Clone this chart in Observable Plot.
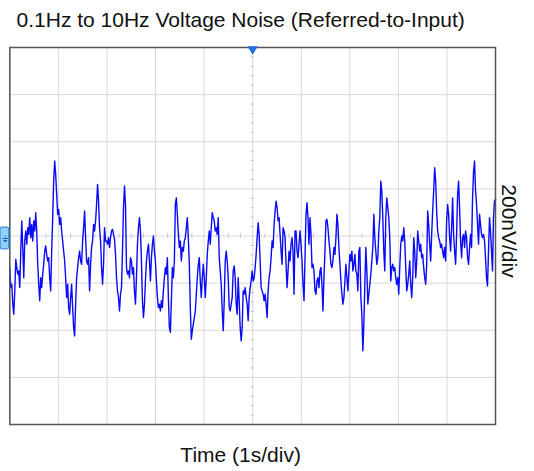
<!DOCTYPE html>
<html>
<head>
<meta charset="utf-8">
<script src="https://cdn.jsdelivr.net/npm/d3@7"></script>
<script src="https://cdn.jsdelivr.net/npm/@observablehq/plot@0.6"></script>
<style>
  html, body { margin: 0; padding: 0; background: #ffffff; }
  #chart svg { display: block; }
</style>
</head>
<body>
<div id="chart"></div>
<script>
// ---- Chart text ----
const titleText = "0.1Hz to 10Hz Voltage Noise (Referred-to-Input)";
const xLabelText = "Time (1s/div)";
const yLabelText = "200nV/div";

// ---- Scope graticule (10 time divisions of 1 s, 8 voltage divisions of 200 nV) ----
const timeDivisions = [0, 1, 2, 3, 4, 5, 6, 7, 8, 9, 10];          // seconds
const voltDivisions = [-800, -600, -400, -200, 0, 200, 400, 600, 800]; // nV
const minorTimeTicks = [0.25, 0.5, 0.75, 1.25, 1.5, 1.75, 2.25, 2.5, 2.75, 3.25, 3.5, 3.75,
  4.25, 4.5, 4.75, 5.25, 5.5, 5.75, 6.25, 6.5, 6.75, 7.25, 7.5, 7.75, 8.25, 8.5, 8.75, 9.25, 9.5, 9.75];
const minorVoltTicks = [-760, -720, -680, -640, -560, -520, -480, -440, -360, -320, -280, -240,
  -160, -120, -80, -40, 40, 80, 120, 160, 240, 280, 320, 360, 440, 480, 520, 560, 640, 680, 720, 760];
const captureSeconds = 10;

// ---- Voltage noise trace, nV (uniform sampling over 10 s) ----
const noise0to2s = [
  -134,-219,-205,-289,-332,-233,-99,-134,-162,-148,
  -219,-64,64,-49,-177,-21,21,-35,35,7,
  78,-7,49,-21,64,21,99,21,-120,-205,
  -275,-177,-219,-162,-120,-64,-42,-78,-106,-92,
  -177,-233,-64,78,233,318,261,177,92,113,
  49,78,21,-21,-64,-106,-177,-261,-205,-304,
  -332,-261,-205,-304,-388,-424,-289,-177,-134,-92,
  -64,-106,-120,-21,35,106,-7,-106,-120,-92,
  -233,-120,-49,-21,49,21,64,134,219,148,
  35,-21,-134,-205,-120,35,-21
];
const noise2to4s = [
  -21,-35,-7,-49,-7,21,28,7,-14,-78,
  -177,-233,-261,-318,-247,-219,-64,120,212,134,
  -134,-162,-148,-177,-92,-106,-162,-134,-233,-289,
  -177,-35,35,78,21,-106,-275,-346,-289,-191,
  -106,-64,-35,-106,-191,-92,-35,0,-64,-106,
  -191,-261,-304,-289,-318,-275,-304,-233,-177,-134,
  -162,-92,-261,-388,-409,-275,-134,-177,-106,134,
  162,92,7,-49,-21,-106,-49,-64,-21,-7,
  35,78,-7,-120,-304,-438,-402,-374,-346,-318,
  -247,-177,-120,-92,-191
];
const noise4to6s = [
  -261,-177,-120,-177,-261,-177,-78,-21,21,-35,
  35,99,78,64,21,35,7,78,-92,-148,
  -205,-318,-402,-275,-106,-64,-106,-177,-304,-318,
  -289,-261,-148,-127,-177,-289,-332,-177,-275,-388,
  -445,-388,-233,-247,-219,-261,-289,-360,-261,-219,
  -191,-148,-191,-177,-134,-78,-7,56,7,-106,
  -219,-233,-247,-275,-247,-289,-346,-233,-177,-148,
  -92,-21,-49,49,106,148,120,64,78,7,
  -64,-120,35,21,-7,-120,-219,-148,-64,-106,
  -35,-7,-64,-247,21
];
const noise6to8s = [
  21,-64,-92,-35,21,-35,-106,-205,-275,-92,
  92,141,78,-35,78,7,-134,-120,-148,-233,
  -247,-191,-177,-219,-148,-134,-205,-318,-177,-64,
  64,71,35,-21,-64,-120,-134,-106,-49,-78,
  -7,92,49,-49,-120,-191,-247,-289,-261,-191,
  -120,-177,-233,-148,-78,-106,-64,-148,-120,-78,
  -148,-162,-233,-64,-49,-261,-332,-487,-374,-205,
  -49,-148,-289,-247,-205,-162,-106,-49,92,-7,
  -64,-120,-92,21,78,233,191,78,-64,-148,
  78,162,120,78,-7
];
const noise8to10s = [
  -191,-134,-120,-148,-134,-177,-205,-177,-247,-134,
  -35,0,-21,35,-21,-134,-233,-205,-162,-106,
  -205,-261,-177,-7,-64,-177,-106,21,-21,-64,
  -35,-92,-78,-134,-177,-205,-120,106,49,-35,
  -106,7,106,191,290,233,106,21,-7,-21,
  -49,-35,-64,-92,-49,-106,64,134,92,-7,
  -64,35,162,7,-64,-120,7,177,233,120,
  -21,-92,-7,7,-49,21,-7,-92,-120,-49,
  7,-49,162,275,318,191,134,49,-35,92,
  49,7,-7,7,-21,-92,-177,-212,-64,78,
  21,-64,-148,78,148,155
];

// ---- build table for Plot ----
const noiseNV = [...noise0to2s, ...noise2to4s, ...noise4to6s, ...noise6to8s, ...noise8to10s];
const samplePeriod = captureSeconds / (noiseNV.length - 1);
const trace = noiseNV.map((v, i) => ({t: i * samplePeriod, v}));

const triangleDown = {
  draw(context, size) {
    const w = Math.sqrt(size) * 0.75, h = Math.sqrt(size) * 0.6;
    context.moveTo(-w, -h);
    context.lineTo(w, -h);
    context.lineTo(0, h);
    context.closePath();
  }
};

const gridColor = "#d9d9d9";
const traceColor = "#0a0aff";

const chart = Plot.plot({
  width: 534,
  height: 471,
  marginTop: 47,
  marginBottom: 47,
  marginLeft: 9.3,
  marginRight: 39,
  x: {domain: [0, captureSeconds], axis: null},
  y: {domain: [voltDivisions[0], voltDivisions[voltDivisions.length - 1]], axis: null},
  style: {fontFamily: "'Liberation Sans', Arial, Helvetica, sans-serif", background: "#ffffff", overflow: "visible"},
  marks: [
    Plot.ruleX(timeDivisions, {stroke: gridColor, strokeWidth: 1}),
    Plot.ruleY(voltDivisions, {stroke: gridColor, strokeWidth: 1}),
    Plot.ruleX(minorTimeTicks, {x: d => d, y1: -10, y2: 10, stroke: "#c8c8c8", strokeWidth: 1}),
    Plot.ruleY(minorVoltTicks, {y: d => d, x1: 4.965, x2: 5.035, stroke: "#c8c8c8", strokeWidth: 1}),
    Plot.line(trace, {x: "t", y: "v", stroke: traceColor, strokeWidth: 1.4, strokeLinejoin: "round"}),
    Plot.frame({stroke: "#555555", strokeWidth: 1.5}),
    // trigger marker at top (centre of time axis)
    Plot.dot([5], {x: d => d, frameAnchor: "top", symbol: triangleDown, r: 4, fill: "#1f6fe6", stroke: "none", dy: 3}),
    // ground reference marker on left edge
    Plot.rect([0], {x1: -0.19, x2: -0.01, y1: -57, y2: 36, fill: "#8fd0ff", stroke: "#1e7fe0", strokeWidth: 1, rx: 2}),
    Plot.text([0], {x: -0.1, y: -14, text: () => "\u23DA", fontSize: 9, fill: "#1060d0", fontFamily: "DejaVu Sans"}),
    // titles
    Plot.text([titleText], {frameAnchor: "top", textAnchor: "middle", dx: -12, dy: -27.7, fontSize: 21, fill: "#111111", lineAnchor: "middle"}),
    Plot.text([xLabelText], {frameAnchor: "bottom", textAnchor: "middle", dx: -12, dy: 30.3, fontSize: 21, fill: "#111111", lineAnchor: "middle"}),
    Plot.text([yLabelText], {frameAnchor: "right", textAnchor: "middle", dx: 13.7, dy: -5, rotate: 90, fontSize: 21, fill: "#111111", lineAnchor: "middle"})
  ]
});

document.getElementById("chart").appendChild(chart);
</script>
</body>
</html>
